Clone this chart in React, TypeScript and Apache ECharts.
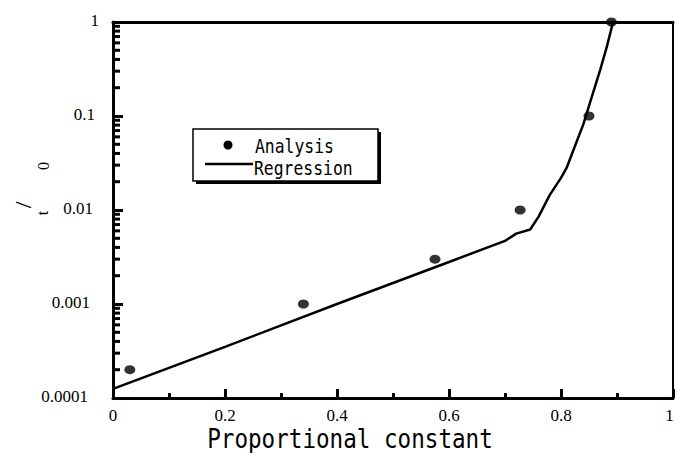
import React, { useEffect, useRef } from "react";
import * as echarts from "echarts";

const analysisX = [0.03, 0.34, 0.575, 0.727, 0.85, 0.89];
const analysisY = [0.0002, 0.001, 0.003, 0.01, 0.1, 1];

const regressionX = [0, 0.2, 0.4, 0.6, 0.7, 0.72, 0.745, 0.76, 0.78, 0.8, 0.81, 0.825, 0.84, 0.855, 0.87, 0.882, 0.893];
const regressionY = [0.000125, 0.00035, 0.001, 0.0028, 0.0047, 0.0056, 0.0062, 0.0085, 0.0145, 0.022, 0.028, 0.048, 0.082, 0.16, 0.31, 0.55, 1];

const xTickLabels = ["0", "0.2", "0.4", "0.6", "0.8", "1"];
const yTickLabels = ["0.0001", "0.001", "0.01", "0.1", "1"];
const yMinorTicks: number[] = [];
for (let e = -4; e < 0; e++) {
  for (let m = 2; m <= 9; m++) yMinorTicks.push(m * Math.pow(10, e));
}

const serif = "Liberation Serif";
const mono = "DejaVu Sans Mono";
const yLabelPadRight = [11, 9, 6, 4, 0];

export default function App() {
  const ref = useRef<HTMLDivElement>(null);
  useEffect(() => {
    if (!ref.current) return;
    const chart = echarts.init(ref.current, undefined, { renderer: "svg" });
    const rich: any = {};
    yLabelPadRight.forEach((p, i) => {
      rich["l" + i] = { fontFamily: serif, fontSize: 17, color: "#000", padding: [0, p, 4, 0] };
    });
    const option: any = {
      animation: false,
      backgroundColor: "#fff",
      grid: { left: 113, right: 2, top: 22, bottom: 55, outerBoundsMode: "none", containLabel: false },
      xAxis: [
        {
          type: "value",
          min: 0,
          max: 1,
          interval: 0.2,
          axisLine: { show: true, onZero: false, lineStyle: { color: "#000", width: 3 } },
          axisTick: { show: true, inside: true, length: 9, lineStyle: { color: "#000", width: 3 } },
          minorTick: { show: true, splitNumber: 2, length: 5, lineStyle: { color: "#000", width: 3 } },
          splitLine: { show: false },
          axisLabel: {
            color: "#000",
            fontFamily: serif,
            fontSize: 17,
            margin: 9,
            rich: {
              n: { fontFamily: serif, fontSize: 17, color: "#000" },
              e: { fontFamily: serif, fontSize: 17, color: "#000", padding: [0, 7, 0, 0] },
            },
            formatter: (v: number) => {
              const i = Math.round(v / 0.2);
              const t = xTickLabels[i];
              if (t === undefined) return "";
              return i === xTickLabels.length - 1 ? `{e|${t}}` : `{n|${t}}`;
            },
          },
        },
        {
          type: "value",
          position: "top",
          min: 0,
          max: 1,
          axisLine: { show: true, onZero: false, lineStyle: { color: "#000", width: 3 } },
          axisTick: { show: false },
          axisLabel: { show: false },
          splitLine: { show: false },
        },
      ],
      yAxis: [
        {
          type: "log",
          logBase: 10,
          min: 0.0001,
          max: 1,
          axisLine: { show: true, onZero: false, lineStyle: { color: "#000", width: 3 } },
          axisTick: { show: true, inside: true, length: 10, lineStyle: { color: "#000", width: 3 } },
          splitLine: { show: false },
          axisLabel: {
            color: "#000",
            fontFamily: serif,
            fontSize: 17,
            margin: 14,
            rich,
            formatter: (v: number) => {
              const i = Math.round(Math.log10(v)) + 4;
              return yTickLabels[i] ? `{l${i}|${yTickLabels[i]}}` : "";
            },
          },
        },
        {
          type: "log",
          logBase: 10,
          min: 0.0001,
          max: 1,
          position: "right",
          axisLine: { show: true, onZero: false, lineStyle: { color: "#000", width: 2 } },
          axisTick: { show: false },
          axisLabel: { show: false },
          splitLine: { show: false },
        },
      ],
      series: [
        {
          type: "custom",
          coordinateSystem: "cartesian2d",
          xAxisIndex: 0,
          yAxisIndex: 0,
          silent: true,
          clip: false,
          data: yMinorTicks.map((v) => [0, v]),
          encode: { x: 0, y: 1 },
          renderItem: (params: any, api: any) => {
            const p = api.coord([0, api.value(1)]);
            return {
              type: "line",
              shape: { x1: p[0], y1: p[1], x2: p[0] + 7, y2: p[1] },
              style: { stroke: "#000", lineWidth: 3 },
            };
          },
          z: 3,
        },
        {
          name: "Regression",
          type: "line",
          data: regressionX.map((x, i) => [x, regressionY[i]]),
          showSymbol: false,
          symbol: "none",
          lineStyle: { color: "#000", width: 2.5 },
          z: 4,
        },
        {
          name: "Analysis",
          type: "scatter",
          data: analysisX.map((x, i) => [x, analysisY[i]]),
          symbol: "circle",
          symbolSize: [11, 9],
          itemStyle: { color: "#000" },
          clip: false,
          z: 5,
        },
      ],
      graphic: [
        { type: "rect", shape: { x: 196, y: 132, width: 185, height: 52 }, style: { fill: "#000" }, z: 10 },
        { type: "rect", shape: { x: 193, y: 129, width: 185, height: 52 }, style: { fill: "#fff", stroke: "#000", lineWidth: 1.5 }, z: 11 },
        { type: "circle", shape: { cx: 228, cy: 145, r: 4.5 }, style: { fill: "#000" }, z: 12 },
        { type: "line", shape: { x1: 205, y1: 164, x2: 253, y2: 164 }, style: { stroke: "#000", lineWidth: 2.5 }, z: 12 },
        { type: "text", x: 255, y: 146, scaleY: 1.2, style: { text: "Analysis", fontFamily: mono, fontSize: 16.4, fill: "#000", verticalAlign: "middle" }, z: 12 },
        { type: "text", x: 254, y: 168, scaleY: 1.2, style: { text: "Regression", fontFamily: mono, fontSize: 16.4, fill: "#000", verticalAlign: "middle" }, z: 12 },
        { type: "text", x: 350, y: 439, scaleY: 1.15, style: { text: "Proportional constant", fontFamily: mono, fontSize: 22.6, fill: "#000", align: "center", verticalAlign: "middle" } },
        { type: "text", x: 23, y: 205, rotation: Math.PI / 2, style: { text: "/", fontFamily: serif, fontSize: 24, fill: "#000", align: "center", verticalAlign: "middle" } },
        { type: "text", x: 42, y: 213, rotation: Math.PI / 2, style: { text: "t", fontFamily: serif, fontSize: 16, fill: "#000", align: "center", verticalAlign: "middle" } },
        { type: "text", x: 43, y: 166, rotation: Math.PI / 2, style: { text: "0", fontFamily: serif, fontSize: 16, fill: "#000", align: "center", verticalAlign: "middle" } },
      ],
    };
    chart.setOption(option);
    return () => chart.dispose();
  }, []);
  return <div ref={ref} style={{ position: "fixed", left: 0, top: 0, width: 675, height: 453 }} />;
}
